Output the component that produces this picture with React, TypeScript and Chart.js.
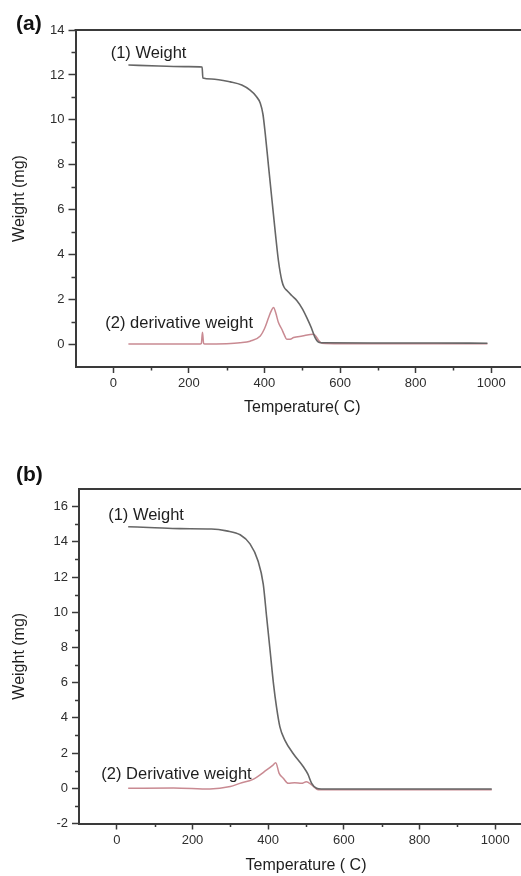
import React, { useEffect, useRef } from 'react';
import { Chart, registerables } from 'chart.js';

Chart.register(...registerables);

const FONT = '"Liberation Sans", Arial, sans-serif';
const AXIS = '#3a3a3a';
const WEIGHT_COLOR = '#666666';
const DERIV_COLOR = '#c98a92';

// shared x ticks
const xTicks = [0, 200, 400, 600, 800, 1000];
const xMinorTicks = [100, 300, 500, 700, 900];

// ---- panel (a) ----
const yTicksA = [0, 2, 4, 6, 8, 10, 12, 14];
const yMinorA = [1, 3, 5, 7, 9, 11, 13];
const weightTempA = [40, 120, 200, 235, 237, 260, 310, 340, 362, 378, 389, 396, 402, 411, 420, 429, 437, 446, 452, 460, 472, 486, 500, 512, 524, 534, 542, 550, 700, 850, 990];
const weightA = [12.44, 12.4, 12.37, 12.35, 11.86, 11.82, 11.69, 11.55, 11.32, 11.05, 10.74, 10.25, 9.4, 7.9, 6.41, 4.94, 3.73, 2.84, 2.55, 2.39, 2.18, 1.95, 1.6, 1.2, 0.75, 0.31, 0.12, 0.08, 0.07, 0.07, 0.06];
const derivTempA = [40, 150, 230, 233, 236, 239, 242, 300, 335, 362, 389, 400, 411, 418, 424, 430, 437, 446, 452, 459, 468, 477, 500, 530, 537, 543, 552, 600, 800, 990];
const derivA = [0.02, 0.02, 0.02, 0.05, 0.55, 0.05, 0.02, 0.04, 0.08, 0.15, 0.38, 0.7, 1.2, 1.5, 1.65, 1.4, 0.98, 0.68, 0.45, 0.24, 0.24, 0.31, 0.38, 0.46, 0.35, 0.19, 0.06, 0.04, 0.04, 0.04];

// ---- panel (b) ----
const yTicksB = [-2, 0, 2, 4, 6, 8, 10, 12, 14, 16];
const yMinorB = [-1, 1, 3, 5, 7, 9, 11, 13, 15];
const weightTempB = [30, 100, 167, 250, 290, 326, 352, 373, 387, 396, 405, 414, 422, 431, 444, 466, 493, 505, 515, 528, 540, 700, 850, 991];
const weightB = [14.86, 14.8, 14.75, 14.73, 14.62, 14.4, 13.88, 12.93, 11.6, 9.72, 7.84, 5.95, 4.62, 3.49, 2.74, 1.98, 1.22, 0.8, 0.28, 0.0, -0.04, -0.04, -0.04, -0.04];
const derivTempB = [30, 150, 246, 300, 325, 360, 396, 412, 420, 429, 440, 453, 470, 488, 501, 515, 532, 560, 800, 991];
const derivB = [0.0, 0.02, -0.04, 0.1, 0.28, 0.51, 1.04, 1.3, 1.45, 0.85, 0.57, 0.28, 0.32, 0.28, 0.37, 0.19, -0.08, -0.09, -0.09, -0.09];

type Note = { text: string; x: number; y: number };

const decorPlugin = {
  id: 'decor',
  afterDraw(chart: any, _args: any, opts: any) {
    const { ctx, chartArea } = chart;
    const { left, right, top, bottom } = chartArea;
    const xs = chart.scales.x;
    const ys = chart.scales.y;
    ctx.save();
    // top frame line
    ctx.strokeStyle = AXIS;
    ctx.lineWidth = 2;
    ctx.beginPath();
    ctx.moveTo(left - 1, top);
    ctx.lineTo(right, top);
    ctx.stroke();
    // minor ticks
    ctx.lineWidth = 1.5;
    ctx.beginPath();
    (opts.xMinor as number[]).forEach((v) => {
      const px = Math.round(xs.getPixelForValue(v)) + 0.5;
      ctx.moveTo(px, bottom);
      ctx.lineTo(px, bottom + 3.5);
    });
    (opts.yMinor as number[]).forEach((v) => {
      const py = Math.round(ys.getPixelForValue(v)) + 0.5;
      ctx.moveTo(left, py);
      ctx.lineTo(left - 4, py);
    });
    ctx.stroke();
    // curve annotations
    ctx.fillStyle = '#1e1e1e';
    ctx.font = `16.5px ${FONT}`;
    ctx.textAlign = 'left';
    ctx.textBaseline = 'middle';
    (opts.notes as Note[]).forEach((n) => {
      ctx.fillText(n.text, xs.getPixelForValue(n.x), ys.getPixelForValue(n.y));
    });
    // panel label
    ctx.font = `bold 21px ${FONT}`;
    ctx.fillStyle = '#111';
    ctx.fillText(opts.panel, opts.panelX, opts.panelY);
    ctx.restore();
  },
};

type PanelCfg = {
  width: number;
  height: number;
  padTop: number;
  padRight: number;
  yWidth: number;
  xHeight: number;
  yMin: number;
  yMax: number;
  yTicks: number[];
  yMinor: number[];
  xTitle: string;
  xTitlePad: number;
  weightT: number[];
  weight: number[];
  derivT: number[];
  deriv: number[];
  notes: Note[];
  panel: string;
  panelX: number;
  panelY: number;
};

function Panel({ cfg, top }: { cfg: PanelCfg; top: number }) {
  const ref = useRef<HTMLCanvasElement | null>(null);
  useEffect(() => {
    if (!ref.current) return;
    const chart = new Chart(ref.current, {
      type: 'line',
      data: {
        datasets: [
          {
            label: 'Weight',
            data: cfg.weightT.map((t, i) => ({ x: t, y: cfg.weight[i] })),
            borderColor: WEIGHT_COLOR,
            borderWidth: 1.6,
            pointRadius: 0,
            cubicInterpolationMode: 'monotone',
          },
          {
            label: 'Derivative weight',
            data: cfg.derivT.map((t, i) => ({ x: t, y: cfg.deriv[i] })),
            borderColor: DERIV_COLOR,
            borderWidth: 1.5,
            pointRadius: 0,
            cubicInterpolationMode: 'monotone',
          },
        ],
      },
      options: {
        animation: false,
        responsive: false,
        devicePixelRatio: 1,
        layout: { padding: { top: cfg.padTop, right: cfg.padRight, left: 0, bottom: 0 } },
        plugins: {
          legend: { display: false },
          tooltip: { enabled: false },
          decor: {
            xMinor: xMinorTicks,
            yMinor: cfg.yMinor,
            notes: cfg.notes,
            panel: cfg.panel,
            panelX: cfg.panelX,
            panelY: cfg.panelY,
          },
        } as any,
        scales: {
          x: {
            type: 'linear',
            min: -100,
            max: 1100,
            afterBuildTicks: (s: any) => {
              s.ticks = xTicks.map((v) => ({ value: v }));
            },
            afterFit: (s: any) => {
              s.height = cfg.xHeight;
            },
            grid: { drawOnChartArea: false, drawTicks: true, tickLength: 6, tickWidth: 1.5, tickColor: AXIS },
            border: { display: true, color: AXIS, width: 2 },
            ticks: {
              color: '#2e2e2e',
              font: { size: 13, family: FONT },
              padding: 3,
              maxRotation: 0,
              autoSkip: false,
              callback: (v: any) => String(v),
            },
            title: {
              display: true,
              text: cfg.xTitle,
              color: '#1e1e1e',
              font: { size: 16, family: FONT },
              padding: { top: 0, bottom: cfg.xTitlePad },
            },
          },
          y: {
            type: 'linear',
            min: cfg.yMin,
            max: cfg.yMax,
            afterBuildTicks: (s: any) => {
              s.ticks = cfg.yTicks.map((v) => ({ value: v }));
            },
            afterFit: (s: any) => {
              s.width = cfg.yWidth;
            },
            grid: { drawOnChartArea: false, drawTicks: true, tickLength: 7, tickWidth: 1.5, tickColor: AXIS },
            border: { display: true, color: AXIS, width: 2 },
            ticks: {
              color: '#2e2e2e',
              font: { size: 13, family: FONT },
              padding: 4,
              autoSkip: false,
              callback: (v: any) => String(v),
            },
            title: {
              display: true,
              text: 'Weight (mg)',
              color: '#1e1e1e',
              font: { size: 16, family: FONT },
              padding: { top: 10, bottom: 0 },
            },
          },
        },
      } as any,
      plugins: [decorPlugin as any],
    });
    return () => chart.destroy();
  }, [cfg]);
  return (
    <canvas
      ref={ref}
      width={cfg.width}
      height={cfg.height}
      style={{ position: 'fixed', left: 0, top, width: cfg.width, height: cfg.height }}
    />
  );
}

const cfgA: PanelCfg = {
  width: 540,
  height: 430,
  padTop: 30,
  padRight: 11,
  yWidth: 75.5,
  xHeight: 63,
  yMin: -1,
  yMax: 14,
  yTicks: yTicksA,
  yMinor: yMinorA,
  xTitle: 'Temperature( C)',
  xTitlePad: 13,
  weightT: weightTempA,
  weight: weightA,
  derivT: derivTempA,
  deriv: derivA,
  notes: [
    { text: '(1) Weight', x: -7, y: 12.97 },
    { text: '(2) derivative weight', x: -21, y: 0.92 },
  ],
  panel: '(a)',
  panelX: 16,
  panelY: 24,
};

const cfgB: PanelCfg = {
  width: 540,
  height: 446,
  padTop: 59,
  padRight: 7,
  yWidth: 79,
  xHeight: 52.5,
  yMin: -2,
  yMax: 17,
  yTicks: yTicksB,
  yMinor: yMinorB,
  xTitle: 'Temperature ( C)',
  xTitlePad: 1,
  weightT: weightTempB,
  weight: weightB,
  derivT: derivTempB,
  deriv: derivB,
  notes: [
    { text: '(1) Weight', x: -23, y: 15.48 },
    { text: '(2) Derivative weight', x: -41, y: 0.81 },
  ],
  panel: '(b)',
  panelX: 16,
  panelY: 45,
};

export default function App() {
  return (
    <div style={{ width: 505, height: 860, position: 'relative', overflow: 'hidden' }}>
      <Panel cfg={cfgA} top={0} />
      <Panel cfg={cfgB} top={430} />
    </div>
  );
}
